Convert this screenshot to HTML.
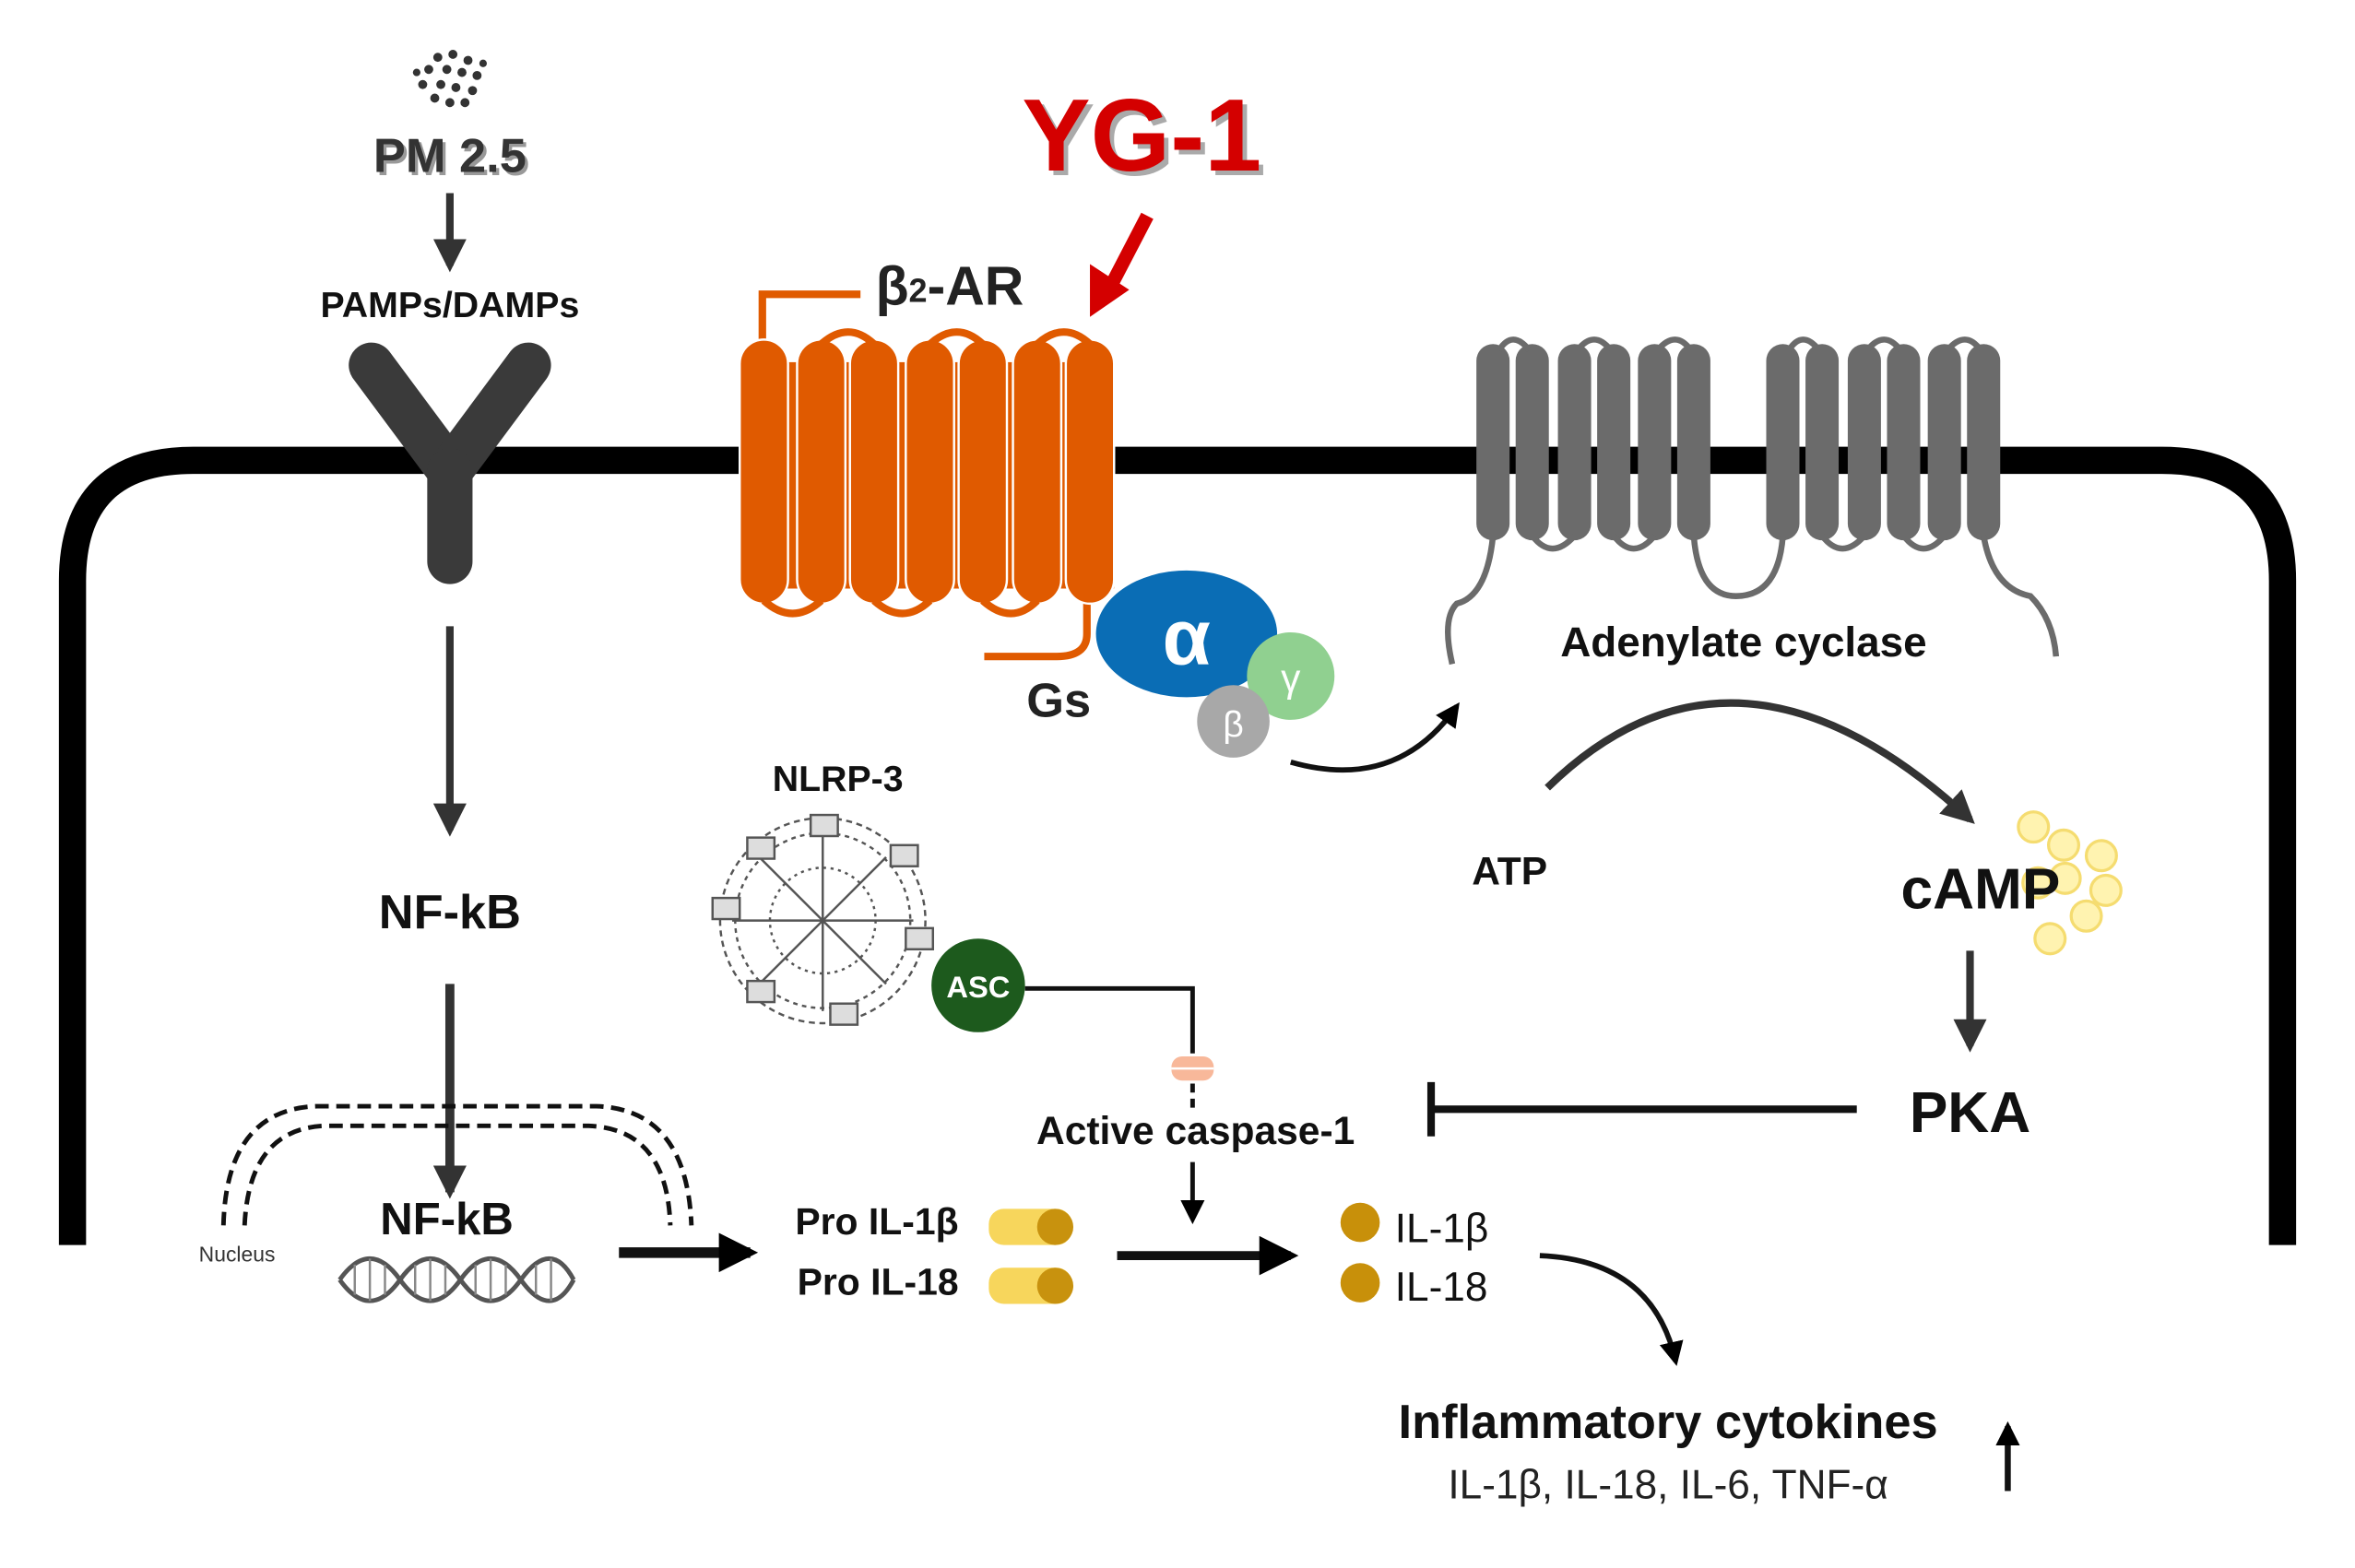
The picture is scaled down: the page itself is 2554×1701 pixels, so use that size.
<!DOCTYPE html>
<html><head><meta charset="utf-8"><style>html,body{margin:0;padding:0;background:#fff}svg{display:block}text{font-family:"Liberation Sans",sans-serif}</style></head><body>
<svg width="2554" height="1701" viewBox="0 0 1560 1039" xmlns="http://www.w3.org/2000/svg">
<defs>
<marker id="ah" viewBox="0 0 10 10" refX="8" refY="5" markerUnits="userSpaceOnUse" markerWidth="22" markerHeight="22" orient="auto"><path d="M0,0 L10,5 L0,10 z" fill="#333"/></marker>
<marker id="ahk" viewBox="0 0 10 10" refX="8" refY="5" markerUnits="userSpaceOnUse" markerWidth="16" markerHeight="16" orient="auto"><path d="M0,0 L10,5 L0,10 z" fill="#000"/></marker>
<marker id="ahb" viewBox="0 0 10 10" refX="8" refY="5" markerUnits="userSpaceOnUse" markerWidth="26" markerHeight="26" orient="auto"><path d="M0,0 L10,5 L0,10 z" fill="#000"/></marker>
</defs>
<rect width="1560" height="1039" fill="#fff"/>
<g fill="#333">
<circle cx="290" cy="38" r="3"/><circle cx="300" cy="36" r="3"/><circle cx="310" cy="40" r="3"/><circle cx="284" cy="46" r="3"/><circle cx="296" cy="46" r="3"/><circle cx="306" cy="48" r="3"/><circle cx="316" cy="50" r="3"/><circle cx="280" cy="56" r="3"/><circle cx="292" cy="56" r="3"/><circle cx="302" cy="58" r="3"/><circle cx="313" cy="60" r="3"/><circle cx="288" cy="65" r="3"/><circle cx="298" cy="68" r="3"/><circle cx="308" cy="68" r="3"/><circle cx="320" cy="42" r="2.5"/><circle cx="276" cy="48" r="2.5"/>
</g>
<text x="298" y="114" font-size="32" font-weight="bold" text-anchor="middle" fill="#999" transform="translate(2,2)">PM 2.5</text>
<text x="298" y="114" font-size="32" font-weight="bold" text-anchor="middle" fill="#333">PM 2.5</text>
<line x1="298" y1="128" x2="298" y2="176" stroke="#333" stroke-width="5" marker-end="url(#ah)"/>
<text x="298" y="210" font-size="24" font-weight="bold" text-anchor="middle" fill="#111">PAMPs/DAMPs</text>
<path d="M48,825 V385 Q48,305 128,305 H1432 Q1512,305 1512,385 V825" fill="none" stroke="#000" stroke-width="18"/>
<g stroke="#3a3a3a" stroke-width="30" stroke-linecap="round" fill="none">
<line x1="246" y1="242" x2="298" y2="312"/><line x1="350" y1="242" x2="298" y2="312"/><line x1="298" y1="312" x2="298" y2="372"/></g>
<g fill="#e05a00" stroke="#e05a00">
<path d="M505,232 V195 H570" fill="none" stroke-width="5"/>
<path d="M720,395 V420 Q720,435 700,435 H652" fill="none" stroke-width="5"/>
<rect x="492" y="240" width="246" height="150" stroke-width="0"/>
<g stroke="#fff" stroke-width="1.5">
<rect x="490" y="225" width="32" height="175" rx="16"/><rect x="528" y="225" width="32" height="175" rx="16"/><rect x="563" y="225" width="32" height="175" rx="16"/><rect x="600" y="225" width="32" height="175" rx="16"/><rect x="635" y="225" width="32" height="175" rx="16"/><rect x="671" y="225" width="32" height="175" rx="16"/><rect x="706" y="225" width="32" height="175" rx="16"/>
</g>
<g fill="none" stroke-width="5"><path d="M506,398 Q525,415 544,398"/><path d="M579,398 Q598,415 616,398"/><path d="M651,398 Q670,415 687,398"/><path d="M544,228 Q562,212 579,228"/><path d="M616,228 Q634,212 651,228"/><path d="M687,228 Q705,212 722,228"/></g>
</g>
<text x="580" y="202" font-size="36" font-weight="bold" fill="#222">β<tspan font-size="22" dy="-2">2</tspan><tspan dy="2">-AR</tspan></text>
<text x="677" y="113" font-size="68" font-weight="bold" fill="#aaa" transform="translate(3,3)">YG-1</text>
<text x="677" y="113" font-size="68" font-weight="bold" fill="#d40000">YG-1</text>
<line x1="760" y1="143" x2="733" y2="195" stroke="#d40000" stroke-width="9"/>
<path d="M722,210 L722,175 L748,192 z" fill="#d40000"/>
<ellipse cx="786" cy="420" rx="60" ry="42" fill="#0a6db5"/>
<text x="786" y="440" font-size="52" font-weight="bold" fill="#fff" text-anchor="middle">α</text>
<circle cx="855" cy="448" r="29" fill="#90d090"/>
<text x="855" y="458" font-size="26" fill="#fff" text-anchor="middle">γ</text>
<circle cx="817" cy="478" r="24" fill="#a8a8a8"/>
<text x="817" y="488" font-size="24" fill="#fff" text-anchor="middle">β</text>
<text x="680" y="475" font-size="32" font-weight="bold" fill="#222">Gs</text>
<path d="M855,505 Q925,525 965,468" fill="none" stroke="#111" stroke-width="3.5" marker-end="url(#ahk)"/>
<g fill="#6b6b6b">
<rect x="978" y="228" width="22" height="130" rx="11"/><rect x="1004" y="228" width="22" height="130" rx="11"/><rect x="1032" y="228" width="22" height="130" rx="11"/><rect x="1058" y="228" width="22" height="130" rx="11"/><rect x="1085" y="228" width="22" height="130" rx="11"/><rect x="1111" y="228" width="22" height="130" rx="11"/>
<rect x="1170" y="228" width="22" height="130" rx="11"/><rect x="1196" y="228" width="22" height="130" rx="11"/><rect x="1224" y="228" width="22" height="130" rx="11"/><rect x="1250" y="228" width="22" height="130" rx="11"/><rect x="1277" y="228" width="22" height="130" rx="11"/><rect x="1303" y="228" width="22" height="130" rx="11"/>
</g>
<g fill="none" stroke="#6b6b6b" stroke-width="4">
<path d="M989,355 Q985,395 965,400 Q955,410 962,440"/>
<path d="M1122,355 Q1125,395 1150,395 Q1178,395 1181,355"/>
<path d="M1314,355 Q1320,390 1345,395 Q1360,410 1362,435"/>
<path d="M1015,355 Q1028,372 1043,355"/><path d="M1069,355 Q1082,372 1096,355"/><path d="M1207,355 Q1220,372 1235,355"/><path d="M1261,355 Q1274,372 1288,355"/>
<path d="M993,232 Q1002,218 1013,232"/><path d="M1045,232 Q1056,218 1067,232"/><path d="M1098,232 Q1110,218 1120,232"/><path d="M1185,232 Q1194,218 1205,232"/><path d="M1237,232 Q1248,218 1259,232"/><path d="M1290,232 Q1302,218 1312,232"/>
</g>
<text x="1155" y="435" font-size="28" font-weight="bold" text-anchor="middle" fill="#111">Adenylate cyclase</text>
<path d="M1025,522 Q1150,400 1305,543" fill="none" stroke="#333" stroke-width="5" marker-end="url(#ah)"/>
<text x="1000" y="586" font-size="26" font-weight="bold" text-anchor="middle" fill="#111">ATP</text>
<g fill="#fff3b0" stroke="#f5dc70" stroke-width="2">
<circle cx="1347" cy="548" r="10"/><circle cx="1367" cy="560" r="10"/><circle cx="1392" cy="567" r="10"/><circle cx="1395" cy="590" r="10"/><circle cx="1350" cy="585" r="10"/><circle cx="1382" cy="607" r="10"/><circle cx="1358" cy="622" r="10"/><circle cx="1368" cy="582" r="10"/></g>
<text x="1312" y="602" font-size="38" font-weight="bold" text-anchor="middle" fill="#111">cAMP</text>
<line x1="1305" y1="630" x2="1305" y2="693" stroke="#333" stroke-width="5" marker-end="url(#ah)"/>
<text x="1305" y="750" font-size="38" font-weight="bold" text-anchor="middle" fill="#111">PKA</text>
<line x1="1230" y1="735" x2="948" y2="735" stroke="#111" stroke-width="5"/>
<line x1="948" y1="717" x2="948" y2="753" stroke="#111" stroke-width="5"/>
<text x="555" y="524" font-size="24" font-weight="bold" text-anchor="middle" fill="#111">NLRP-3</text>
<g fill="none" stroke="#555" stroke-width="1.5">
<circle cx="545" cy="610" r="68" stroke-dasharray="4 3"/><circle cx="545" cy="610" r="58" stroke-dasharray="3 3"/><circle cx="545" cy="610" r="35" stroke-dasharray="2 3"/>
<path d="M545,550 L545,670 M485,610 L605,610 M503,568 L587,652 M587,568 L503,652"/>
</g>
<g fill="#ddd" stroke="#555" stroke-width="1.5">
<rect x="537" y="540" width="18" height="14"/><rect x="590" y="560" width="18" height="14"/><rect x="600" y="615" width="18" height="14"/><rect x="550" y="665" width="18" height="14"/><rect x="495" y="650" width="18" height="14"/><rect x="472" y="595" width="18" height="14"/><rect x="495" y="555" width="18" height="14"/></g>
<circle cx="648" cy="653" r="31" fill="#1d5a1d"/>
<text x="648" y="661" font-size="20" font-weight="bold" text-anchor="middle" fill="#fff">ASC</text>
<path d="M679,655 H790 V698" fill="none" stroke="#111" stroke-width="3"/>
<rect x="776" y="700" width="28" height="16" rx="7" fill="#f8b89a"/>
<line x1="776" y1="708" x2="804" y2="708" stroke="#fff" stroke-width="1.5"/>
<line x1="790" y1="718" x2="790" y2="735" stroke="#111" stroke-width="3" stroke-dasharray="6 4"/>
<text x="792" y="758" font-size="26" font-weight="bold" text-anchor="middle" fill="#111">Active caspase-1</text>
<line x1="790" y1="770" x2="790" y2="808" stroke="#111" stroke-width="3" marker-end="url(#ahk)"/>
<line x1="298" y1="415" x2="298" y2="550" stroke="#333" stroke-width="5" marker-end="url(#ah)"/>
<text x="298" y="615" font-size="32" font-weight="bold" text-anchor="middle" fill="#111">NF-kB</text>
<line x1="298" y1="652" x2="298" y2="790" stroke="#333" stroke-width="6" marker-end="url(#ah)"/>
<g fill="none" stroke="#111" stroke-width="3" stroke-dasharray="9 5">
<path d="M148,812 Q150,735 210,733 H395 Q455,735 458,812"/>
<path d="M162,812 Q165,748 215,746 H390 Q442,748 444,812"/></g>
<text x="157" y="836" font-size="14" text-anchor="middle" fill="#333">Nucleus</text>
<text x="296" y="818" font-size="30" font-weight="bold" text-anchor="middle" fill="#111">NF-kB</text>
<g fill="none" stroke="#555" stroke-width="3">
<path d="M225,848 Q245,820 265,848 T305,848 T345,848 T380,848"/>
<path d="M225,848 Q245,876 265,848 T305,848 T345,848 T380,848"/></g>
<g stroke="#888" stroke-width="1.5"><path d="M235,838v20M245,834v28M255,838v20M275,838v20M285,834v28M295,838v20M315,838v20M325,834v28M335,838v20M355,838v20M365,834v28"/></g>
<line x1="410" y1="830" x2="497" y2="830" stroke="#111" stroke-width="7" marker-end="url(#ahb)"/>
<text x="635" y="818" font-size="25" font-weight="bold" text-anchor="end" fill="#111">Pro IL-1β</text>
<text x="635" y="858" font-size="25" font-weight="bold" text-anchor="end" fill="#111">Pro IL-18</text>
<rect x="655" y="801" width="55" height="24" rx="10" fill="#f7d65c"/><circle cx="699" cy="813" r="12" fill="#c8920e"/>
<rect x="655" y="840" width="55" height="24" rx="10" fill="#f7d65c"/><circle cx="699" cy="852" r="12" fill="#c8920e"/>
<line x1="740" y1="832" x2="855" y2="832" stroke="#111" stroke-width="6" marker-end="url(#ahb)"/>
<circle cx="901" cy="810" r="13" fill="#c8900a"/><circle cx="901" cy="850" r="13" fill="#c8900a"/>
<text x="924" y="823" font-size="27" fill="#111">IL-1β</text>
<text x="924" y="862" font-size="27" fill="#111">IL-18</text>
<path d="M1020,832 Q1095,835 1110,902" fill="none" stroke="#111" stroke-width="3.5" marker-end="url(#ahk)"/>
<text x="1105" y="953" font-size="32" font-weight="bold" text-anchor="middle" fill="#111">Inflammatory  cytokines</text>
<text x="1105" y="993" font-size="27" text-anchor="middle" fill="#222">IL-1β, IL-18, IL-6, TNF-α</text>
<line x1="1330" y1="988" x2="1330" y2="945" stroke="#111" stroke-width="4" marker-end="url(#ahk)"/>
</svg>
</body></html>
